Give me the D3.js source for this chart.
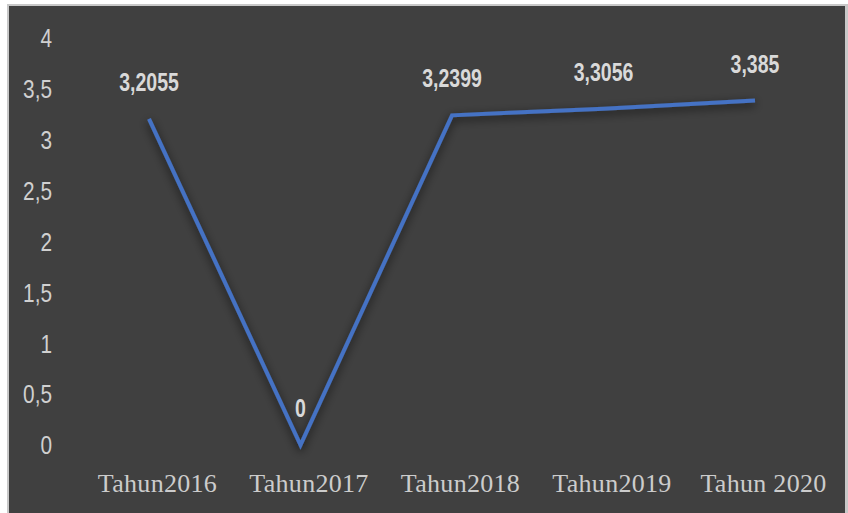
<!DOCTYPE html>
<html>
<head>
<meta charset="utf-8">
<script src="https://cdn.jsdelivr.net/npm/d3@7"></script>
<style>
  body { margin: 0; background: #ffffff; }
</style>
</head>
<body>
<div id="chart"></div>
<script>
// Data
const categories = ["Tahun2016", "Tahun2017", "Tahun2018", "Tahun2019", "Tahun 2020"];
const values = [3.2055, 0, 3.2399, 3.3056, 3.385];
const valueLabels = ["3,2055", "0", "3,2399", "3,3056", "3,385"];
const yTicks = [0, 0.5, 1, 1.5, 2, 2.5, 3, 3.5, 4];

const width = 848;
const height = 513;
const narrow = 0.8; // horizontal squeeze for the narrow sans look

const svg = d3.select("#chart")
  .append("svg")
    .attr("width", width)
    .attr("height", height);

// shadow under the line
const defs = svg.append("defs");
const shadow = defs.append("filter")
  .attr("id", "shadow")
  .attr("x", "-20%").attr("y", "-20%")
  .attr("width", "140%").attr("height", "140%");
shadow.append("feDropShadow")
  .attr("dx", 0).attr("dy", 3)
  .attr("stdDeviation", 5)
  .attr("flood-color", "#000")
  .attr("flood-opacity", 0.7);

// frame
svg.append("rect")
  .attr("x", 7).attr("y", 4)
  .attr("width", width - 7).attr("height", height - 4)
  .attr("fill", "#c8c8c8");
svg.append("rect")
  .attr("x", 9).attr("y", 6)
  .attr("width", width - 12).attr("height", height - 6)
  .attr("fill", "#404040");

// Scales
const x = d3.scalePoint()
  .domain(categories)
  .range([149, 755]);

const y = d3.scaleLinear()
  .domain([0, 4])
  .range([445, 38]);

// Y axis labels
const yAxis = svg.append("g")
  .call(d3.axisLeft(y).tickValues(yTicks).tickSize(0).tickPadding(0)
    .tickFormat(d => String(d).replace(".", ",")));
yAxis.select(".domain").remove();
yAxis.selectAll(".tick")
  .attr("transform", d => `translate(52,${y(d)}) scale(${narrow},1)`);
yAxis.selectAll("text")
  .attr("x", 0)
  .attr("fill", "#d0d0d0")
  .style("font-family", "'Liberation Sans', sans-serif")
  .style("font-size", "26px")
  .attr("dy", "0.36em");

// X axis labels
const xAxis = svg.append("g")
  .attr("transform", "translate(8,0)")
  .call(d3.axisBottom(x).tickSize(0).tickPadding(0));
xAxis.select(".domain").remove();
xAxis.selectAll("text")
  .attr("y", 492)
  .attr("dy", 0)
  .attr("fill", "#cccccc")
  .style("font-family", "'Liberation Serif', 'DejaVu Serif', serif")
  .style("font-size", "26px")
  .style("letter-spacing", "0.3px");

// Line
const line = d3.line()
  .x((d, i) => x(categories[i]))
  .y(d => y(d));

svg.append("path")
  .datum(values)
  .attr("d", line)
  .attr("fill", "none")
  .attr("stroke", "#4472c4")
  .attr("stroke-width", 4)
  .attr("stroke-linejoin", "miter")
  .attr("filter", "url(#shadow)");

// Data labels
svg.append("g")
  .selectAll("text")
  .data(values)
  .enter().append("text")
    .attr("transform", (d, i) => `translate(${x(categories[i])},${y(d) - 28}) scale(0.78,1)`)
    .attr("text-anchor", "middle")
    .attr("fill", "#d9d9d9")
    .style("font-family", "'Liberation Sans', sans-serif")
    .style("font-weight", "bold")
    .style("font-size", "25px")
    .text((d, i) => valueLabels[i]);
</script>
</body>
</html>
